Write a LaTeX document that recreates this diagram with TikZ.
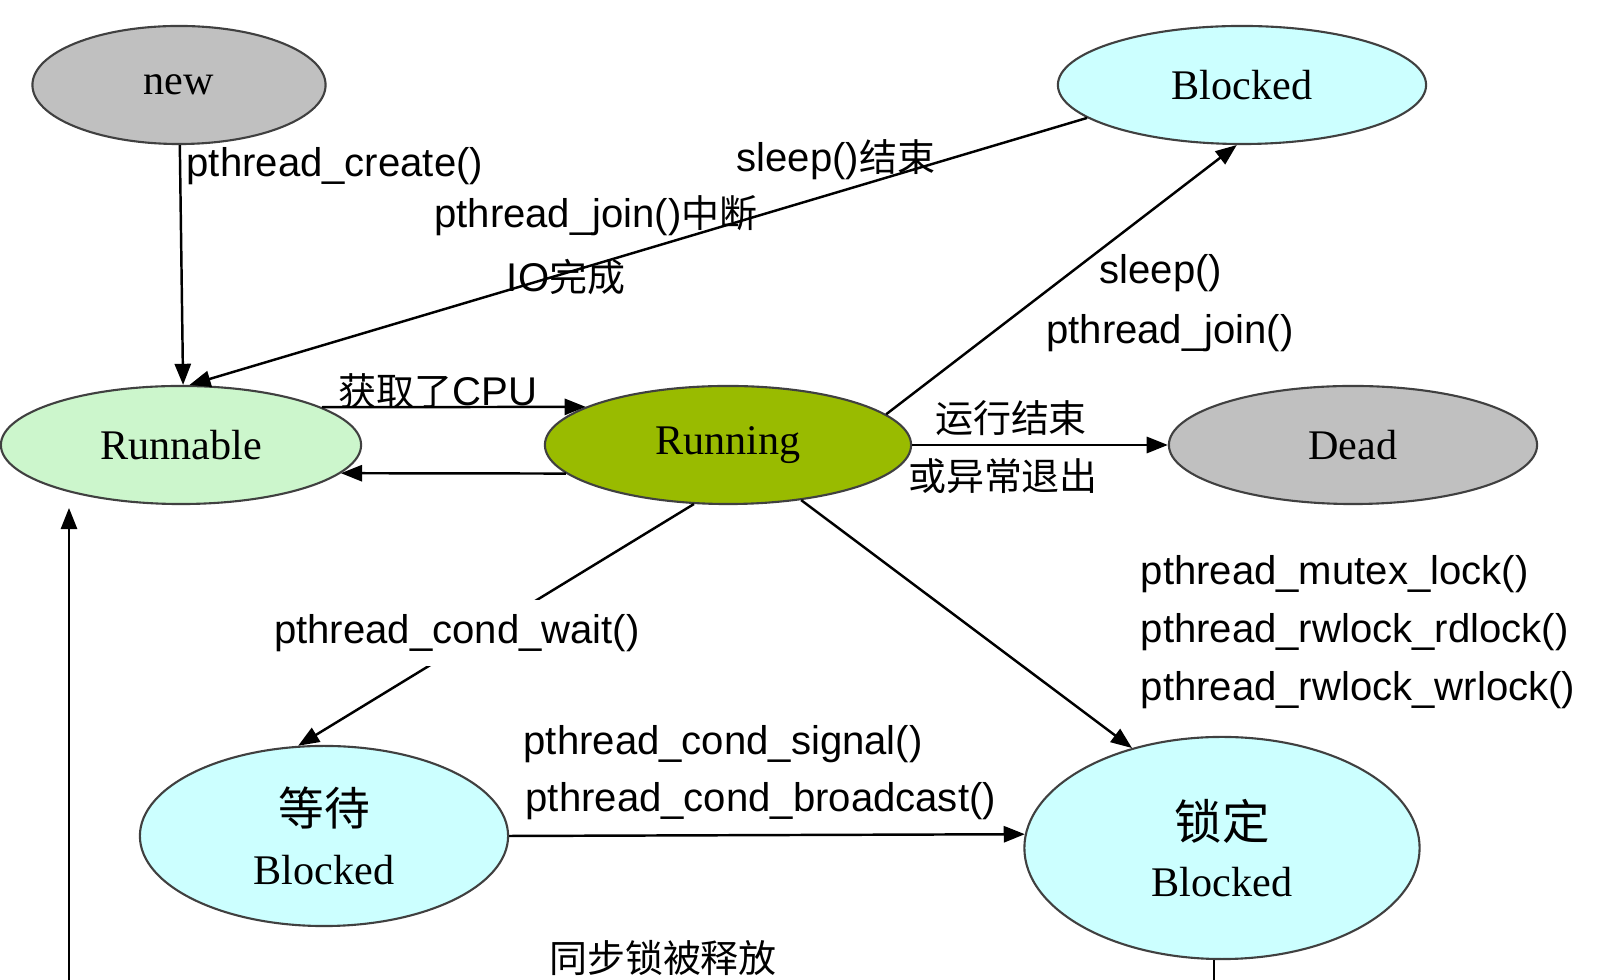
\documentclass[tikz,border=0pt]{standalone}
\usepackage{fontspec}
\setmainfont{Liberation Serif}
\newfontfamily\labfont{Liberation Sans}
\newfontfamily\cjk{Noto Sans CJK SC}
\usetikzlibrary{shapes.geometric,arrows.meta}
\definecolor{stgray}{RGB}{192,192,192}
\definecolor{stcyan}{RGB}{204,255,255}
\definecolor{stgreen}{RGB}{204,246,204}
\definecolor{stolive}{RGB}{153,187,0}
\newcommand{\zh}[1]{{\cjk\fontsize{10.8}{13}\selectfont #1}}
\tikzset{
  st/.style={ellipse, draw=black!75, line width=0.6pt, inner sep=0pt, minimum height=1.18cm, font=\fontsize{12}{18}\selectfont},
  tr/.style={line width=0.7pt, -{Triangle[length=6pt,width=4.6pt]}},
  lab/.style={font=\fontsize{11.4}{13}\selectfont\labfont, inner sep=0pt},
}
\begin{document}
\begin{tikzpicture}[x=0.01cm,y=-0.01cm]
    \useasboundingbox (0,0) rectangle (1599,980);
    \clip (0,0) rectangle (1599,980);
    \node[st, fill=stgray, minimum width=2.93cm] (new) at (179,85) {new};
    \node[st, fill=stcyan, minimum width=3.68cm] (blocked) at (1242,85) {Blocked};
    \node[st, fill=stgreen, minimum width=3.60cm] (runnable) at (181,445) {Runnable};
    \node[st, fill=stolive, minimum width=3.66cm] (running) at (728,445) {Running};
    \node[st, fill=stgray, minimum width=3.68cm] (dead) at (1353,445) {Dead};
    \node[st, fill=stcyan, minimum width=3.68cm, minimum height=1.80cm, align=center] (waitb) at (324,836) {{\cjk\fontsize{13}{18}\selectfont 等待}\\[-1pt]Blocked};
    \node[st, fill=stcyan, minimum width=3.95cm, minimum height=2.22cm, align=center] (lockb) at (1222,848) {{\cjk\fontsize{13.5}{18}\selectfont 锁定}\\[-2pt]Blocked};
    \coordinate (lockend) at (1206,990);
    \coordinate (relbot) at (69,990);
    \coordinate (reltop) at (69,508);

    \draw[tr] (new) -- (runnable.88);
    \draw[tr] (blocked.192) -- (runnable.82);
    \draw[tr] (running.11) -- (blocked.265);
    \draw[tr] (runnable.15) -- (running.165);
    \draw[tr] (running.190) -- (runnable.-10);
    \draw[tr] (running) -- (dead);
    \draw[tr] (running.-120) -- (waitb.106);
    \draw[tr] (running.-37) -- (lockb.132);
    \draw[tr] (waitb.east) -- (lockb.176);
    \draw[line width=0.7pt] (lockb.266) -- (lockb.266 |- lockend);
    \draw[tr] (relbot) -- (reltop);

    \node[lab, anchor=west] (lcreate) at (186,166) {pthread\_create()};
    \node[lab] (lsleepend) at (836,160) {sleep()\zh{结束}};
    \node[lab] (ljoinint) at (596,216) {pthread\_join()\zh{中断}};
    \node[lab] (lio) at (566,277) {IO\zh{完成}};
    \node[lab] (lsleep) at (1161,273) {sleep()};
    \node[lab] (ljoin) at (1170,333) {pthread\_join()};
    \node[lab] (lcpu) at (438,391) {\zh{获取了}CPU};
    \node[lab] (lend) at (1011,418) {\zh{运行结束}};
    \node[lab] (lexc) at (1003,476) {\zh{或异常退出}};
    \node[lab, fill=white, inner ysep=4pt] (lwait) at (457,633) {pthread\_cond\_wait()};
    \node[lab, anchor=west] (lmutex) at (1140,574) {pthread\_mutex\_lock()};
    \node[lab, anchor=west] (lrd) at (1140,632) {pthread\_rwlock\_rdlock()};
    \node[lab, anchor=west] (lwr) at (1140,690) {pthread\_rwlock\_wrlock()};
    \node[lab, anchor=west] (lsignal) at (523,744) {pthread\_cond\_signal()};
    \node[lab, anchor=west] (lbcast) at (525,801) {pthread\_cond\_broadcast()};
    \node[lab] (lrelease) at (663,958) {\zh{同步锁被释放}};
\end{tikzpicture}
\end{document}
